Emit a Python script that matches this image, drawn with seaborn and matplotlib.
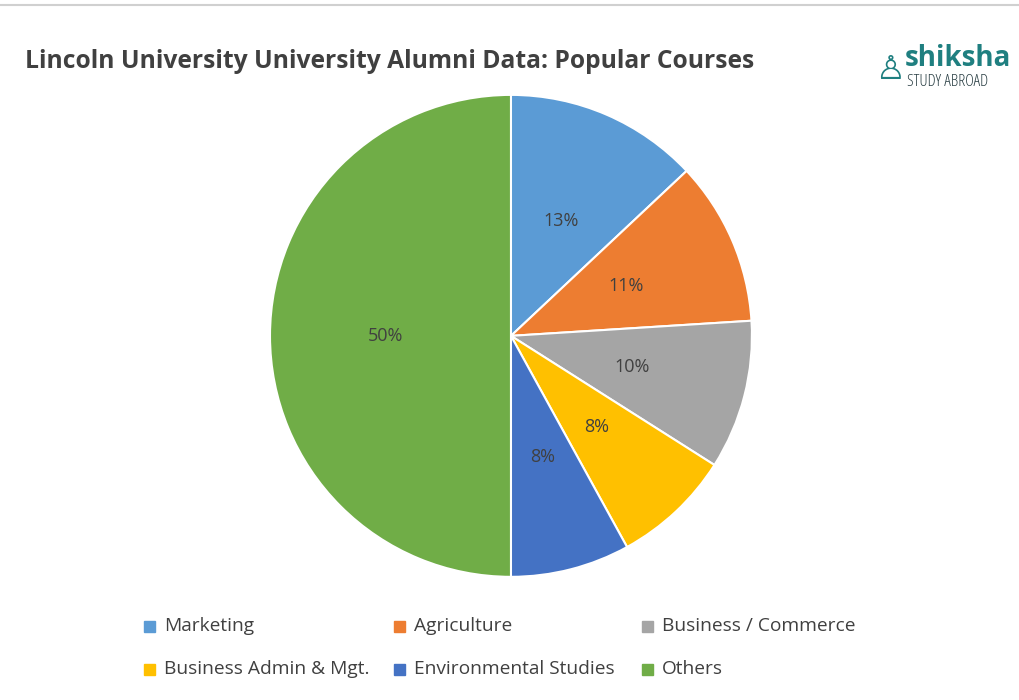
import matplotlib
matplotlib.use("Agg")
import matplotlib.pyplot as plt
import seaborn as sns
from matplotlib.patches import Rectangle

sns.set_theme(style="white")
plt.rcParams['font.family'] = ['Open Sans', 'DejaVu Sans']

categories = ["Marketing", "Agriculture", "Business / Commerce",
              "Business Admin & Mgt.", "Environmental Studies", "Others"]
values = [13, 11, 10, 8, 8, 50]
colors = ["#5B9BD5", "#ED7D31", "#A5A5A5", "#FFC000", "#4472C4", "#70AD47"]

fig = plt.figure(figsize=(10.2, 7), dpi=100)
fig.patch.set_facecolor("white")
fig.add_artist(plt.Line2D([0, 1], [0.993, 0.993], color="#d0d0d0", lw=1.5))

ax = fig.add_axes([0.2647, 0.1757, 0.4725, 0.689])
wedges, texts, autotexts = ax.pie(values, colors=colors, startangle=90, counterclock=False,
                                  autopct="%1.0f%%", pctdistance=0.52,
                                  wedgeprops=dict(edgecolor="white", linewidth=1.5),
                                  textprops=dict(color="#404040", fontsize=13))
ax.set_xlim(-1, 1)
ax.set_ylim(-1, 1)
ax.set_aspect("equal")

fig.text(25/1020, 1-62/700, "Lincoln University University Alumni Data: Popular Courses",
         fontsize=17.7, fontweight="bold", color="#404040", va="center", ha="left")
fig.text(905/1020, 1-58/700, "shiksha", fontsize=20, fontweight="bold", color="#1f7f80",
         va="center", ha="left")
fig.text(907/1020, 1-82/700, "STUDY ABROAD", fontsize=12, color="#2a3f44",
         va="center", ha="left", fontstretch="condensed")
fig.text(890/1020, 1-70/700, "♙", fontsize=24, color="#1f7f80", va="center", ha="center")

xs = [150, 400, 648]
ys = [626, 669]
for i, (c, col) in enumerate(zip(categories, colors)):
    x = xs[i % 3]; y = ys[i // 3]
    fig.add_artist(Rectangle(((x - 6) / 1020, 1 - (y + 6) / 700), 11 / 1020, 11 / 700,
                             transform=fig.transFigure, color=col))
    fig.text((x + 14) / 1020, 1 - y / 700, c, fontsize=13.8, color="#404040",
             va="center", ha="left")

fig.savefig("out.png", dpi=100)
